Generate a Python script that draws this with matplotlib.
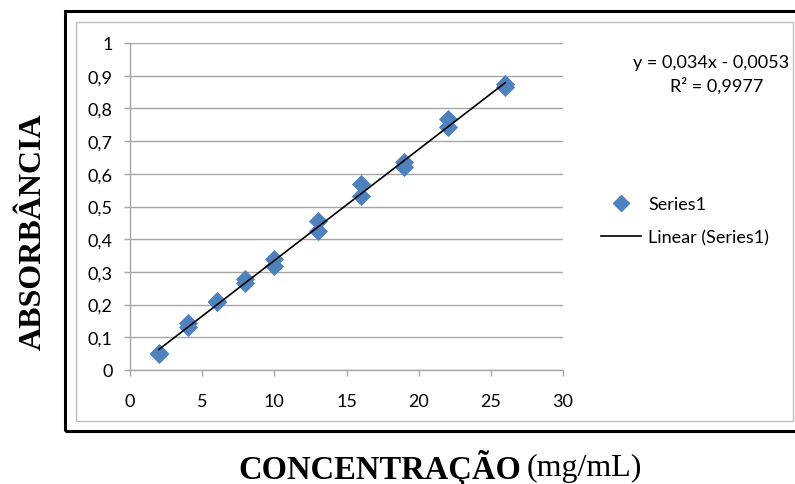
import numpy as np
import matplotlib.pyplot as plt
from matplotlib.patches import Rectangle
from matplotlib.lines import Line2D

# Concentration (mg/mL) and absorbance readings
conc = [2, 2, 4, 4, 6, 6, 8, 8, 10, 10, 13, 13, 16, 16, 19, 19, 22, 22, 26, 26]
absorb = [0.052, 0.050, 0.144, 0.131, 0.212, 0.208, 0.278, 0.265, 0.339, 0.317,
          0.457, 0.426, 0.569, 0.533, 0.635, 0.620, 0.768, 0.742, 0.875, 0.866]

# Linear trend from the chart
slope = 0.034
intercept = -0.0053

blue = '#4F81BD'
grid_gray = '#A6A6A6'
tick_font = 'Lato'
fs = 13

fig = plt.figure(figsize=(7.95, 4.85), dpi=100)
W, H = 795, 485

# outer frame and inner chart-area border
fig.patches.append(Rectangle((65 / W, 1 - 432 / H), 740 / W, 420 / H,
                             transform=fig.transFigure, fill=False,
                             edgecolor='black', linewidth=2.2, zorder=0))
fig.patches.append(Rectangle((76 / W, 1 - 422 / H), 717 / W, 399 / H,
                             transform=fig.transFigure, fill=False,
                             edgecolor='#BFBFBF', linewidth=1.0, zorder=0))

ax = fig.add_axes([130 / W, 1 - 371 / H, 433 / W, 327 / H])
ax.set_facecolor('none')

ax.scatter(conc, absorb, marker='D', s=95, color=blue, zorder=3, linewidths=0)

xs = np.array([min(conc), max(conc)])
ax.plot(xs, slope * xs + intercept, color='black', linewidth=1.2, zorder=4)

ax.set_xlim(0, 30)
ax.set_ylim(0, 1)
ax.set_xticks(range(0, 31, 5))
ax.set_yticks(np.arange(0, 1.01, 0.1))
ax.set_xticklabels([str(v) for v in range(0, 31, 5)])
ax.set_yticklabels(['0'] + [('%.1f' % v).replace('.', ',') for v in np.arange(0.1, 0.95, 0.1)] + ['1'])

ax.grid(axis='y', color=grid_gray, linewidth=1.0)
ax.set_axisbelow(True)
for s in ['top', 'right']:
    ax.spines[s].set_visible(False)
for s in ['left', 'bottom']:
    ax.spines[s].set_color(grid_gray)
    ax.spines[s].set_linewidth(1.0)
ax.tick_params(direction='out', length=4.5, color=grid_gray, width=1.0,
               labelsize=fs, labelcolor='black')
ax.tick_params(axis='x', pad=12)
ax.tick_params(axis='y', pad=8)
for lbl in ax.get_xticklabels() + ax.get_yticklabels():
    lbl.set_fontfamily(tick_font)

# trendline equation
fig.text(711 / W, 1 - 63 / H, 'y = 0,034x - 0,0053', ha='center', va='center',
         fontsize=fs, family=tick_font)
fig.text(717 / W, 1 - 86 / H, 'R² = 0,9977', ha='center', va='center',
         fontsize=fs, family=tick_font)

# legend
handles = [Line2D([], [], marker='D', color=blue, linestyle='none', markersize=8),
           Line2D([], [], color='black', linewidth=1.2)]
leg = fig.legend(handles, ['Series1', 'Linear (Series1)'], loc='center left',
                 bbox_to_anchor=(601 / W, 1 - 222 / H), frameon=False,
                 borderpad=0, borderaxespad=0,
                 handlelength=2.2, handletextpad=0.4, labelspacing=0.95,
                 prop={'family': tick_font, 'size': fs})

# axis titles
fig.text(33 / W, 1 - 232 / H, 'ABSORBÂNCIA', rotation=90, ha='center', va='center',
         fontsize=23, fontweight='bold', family='Liberation Serif')
fig.text(521 / W, 1 - 468 / H, 'CONCENTRAÇÃO', ha='right', va='center',
         fontsize=23.5, fontweight='bold', family='Liberation Serif')
fig.text(527 / W, 1 - 468 / H, '(mg/mL)', ha='left', va='center',
         fontsize=23, family='Liberation Serif')

fig.savefig('out.png', dpi=100)
